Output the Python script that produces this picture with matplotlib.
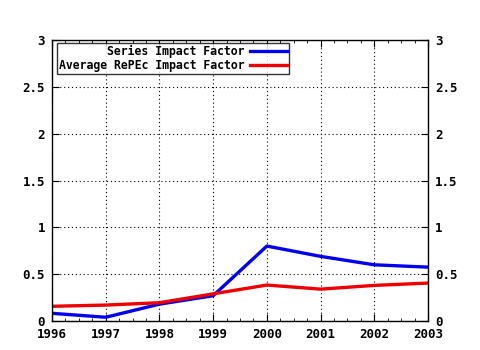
import matplotlib.pyplot as plt
from matplotlib.ticker import MultipleLocator

years = [1996, 1997, 1998, 1999, 2000, 2001, 2002, 2003]
series_if = [0.082, 0.04, 0.18, 0.27, 0.80, 0.69, 0.60, 0.575]
repec_if = [0.157, 0.17, 0.195, 0.29, 0.384, 0.34, 0.38, 0.405]

plt.rcParams['font.family'] = 'DejaVu Sans Mono'
plt.rcParams['font.weight'] = 'bold'
plt.rcParams['font.size'] = 9

fig = plt.figure(figsize=(4.8, 3.5), dpi=100)
ax = fig.add_axes([52/480, 1 - 321/350, (428-52)/480, (321-40)/350])

ax.plot(years, series_if, color="#0000ee", lw=2.4, label="Series Impact Factor")
ax.plot(years, repec_if, color="#ee0000", lw=2.4, label="Average RePEc Impact Factor")

ax.set_xlim(1996, 2003)
ax.set_ylim(0, 3)
ax.xaxis.set_major_locator(MultipleLocator(1))
ax.xaxis.set_minor_locator(MultipleLocator(0.25))
ax.set_yticks([0, 0.5, 1, 1.5, 2, 2.5, 3])
ax.set_yticklabels(["0", "0.5", "1", "1.5", "2", "2.5", "3"])
ax.tick_params(which="both", direction="in", top=True, right=True,
               labelright=True, colors="black", pad=5)
ax.tick_params(which="major", length=5)
ax.tick_params(which="minor", length=2.5)
ax.grid(True, which="major", color="black", ls=(0, (1, 2.5)), lw=0.8)
for s in ax.spines.values():
    s.set_linewidth(1)

leg = ax.legend(loc="upper left", bbox_to_anchor=(0.013, 0.989), markerfirst=False,
                alignment="right", frameon=True, fancybox=False, edgecolor="black",
                handlelength=3.2, borderpad=0.15, labelspacing=0.1,
                handletextpad=0.5, borderaxespad=0, prop={"size": 8.3})
leg.get_frame().set_linewidth(1)
leg._legend_box.align = "right"

fig.savefig("out.png", dpi=100)
